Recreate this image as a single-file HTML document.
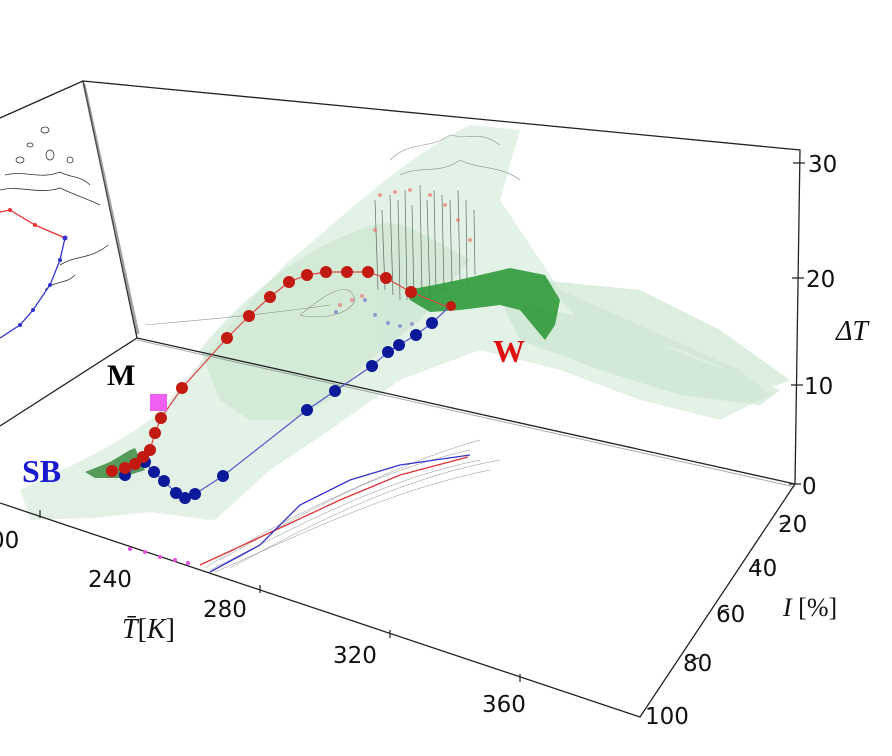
<!DOCTYPE html>
<html><head><meta charset="utf-8"><style>
html,body{margin:0;padding:0;background:#fff;}
svg{display:block;}
text{font-family:"DejaVu Sans","Liberation Sans",sans-serif;fill:#111;}
.serif{font-family:"Liberation Serif","DejaVu Serif",serif;}
</style></head><body>
<svg width="892" height="756" viewBox="0 0 892 756" xmlns="http://www.w3.org/2000/svg">
<rect width="892" height="756" fill="#fff"/>
<g fill="#dcefe0" opacity="0.8">
<path d="M20,490 C60,470 100,455 150,420 C190,380 230,320 290,260 C340,220 400,160 470,125 L520,130 L500,200 L560,290 L650,330 L740,370 L770,395 L720,420 L640,400 L560,370 L480,350 L400,380 L330,430 L270,470 L215,520 L150,512 L90,518 L30,518 Z"/>
</g>
<g fill="#c6e4cc" opacity="0.6">
<path d="M200,350 C240,300 300,250 360,230 C400,210 430,240 470,260 L420,320 L370,360 L330,400 L290,420 L250,420 L220,400 Z"/>
<path d="M500,300 L600,320 L700,360 L780,390 L760,405 L680,395 L600,370 L520,340 Z"/>
<path d="M540,280 L640,290 L720,330 L790,380 L770,388 L680,350 L580,320 Z"/>
</g>
<g fill="#e2f0e5" opacity="0.9">
<path d="M30,500 L120,470 L150,430 L170,415 L200,440 L215,480 L210,520 L150,512 L90,518 L30,520 Z"/>
</g>
<g stroke="#222" stroke-width="1.3" fill="none">
<path d="M83,81 L800,150 L795,484 L137,338 Z"/>
<path d="M83,81 L0,118"/>
<path d="M137,338 L0,426"/>
<path d="M0,503 L640,717 L795,484"/>
</g>
<g stroke="#555" stroke-width="1" fill="none">
<path d="M84,84 L138,334" stroke-width="3" stroke="#666" opacity="0.6"/>
<path d="M137,340 L795,487" opacity="0.5"/>
</g>
<g stroke="#222" stroke-width="1.2">
<path d="M793,163 L805,163 M792,278 L804,278 M791,385 L803,385 M789,484 L801,484"/>
<path d="M40,510 L40,518 M260,585 L260,593 M390,630 L390,638 M520,674 L520,682"/>
<path d="M780,524 L788,522 M752,566 L760,564 M721,611 L729,609 M691,660 L699,658"/>
</g>
<g font-size="23">
<text x="808" y="172">30</text>
<text x="806" y="287">20</text>
<text x="804" y="394">10</text>
<text x="802" y="494">0</text>
<text x="-10" y="548">00</text>
<text x="88" y="587">240</text>
<text x="203" y="617">280</text>
<text x="333" y="663">320</text>
<text x="482" y="712">360</text>
<text x="778" y="532">20</text>
<text x="748" y="576">40</text>
<text x="716" y="622">60</text>
<text x="683" y="671">80</text>
<text x="645" y="724">100</text>
</g>
<text x="836" y="340" font-size="28" font-style="italic" class="serif">ΔT</text>
<text x="783" y="616" font-size="26" class="serif"><tspan font-style="italic">I</tspan> [%]</text>
<text x="122" y="638" font-size="28" class="serif"><tspan font-style="italic">T̄</tspan>[<tspan font-style="italic">K</tspan>]</text>
<g stroke="#333" stroke-width="0.8" fill="none">
<path d="M0,190 C20,185 40,195 60,188 C75,195 90,200 100,205 M5,175 C25,170 40,180 60,172 C70,178 80,175 90,185"/>
<ellipse cx="45" cy="130" rx="4" ry="3"/><ellipse cx="50" cy="155" rx="4" ry="5"/><ellipse cx="20" cy="160" rx="4" ry="3"/>
<ellipse cx="70" cy="160" rx="3" ry="3"/><ellipse cx="30" cy="145" rx="3" ry="2"/>
<path d="M60,265 C75,255 90,260 108,245 M45,290 C55,280 65,285 75,275"/>
</g>
<polyline points="0,212 10,210 35,225 65,238" stroke="#e33" stroke-width="1.3" fill="none"/>
<polyline points="65,238 60,260 50,285 33,310 20,325 0,338" stroke="#33c" stroke-width="1.3" fill="none"/>
<g fill="#e33"><circle cx="10" cy="210" r="2"/><circle cx="35" cy="225" r="2"/></g>
<g fill="#33c"><circle cx="65" cy="238" r="2.5"/><circle cx="60" cy="260" r="2"/><circle cx="50" cy="285" r="2"/><circle cx="33" cy="310" r="2"/><circle cx="20" cy="325" r="2"/></g>
<g stroke="#333" stroke-width="0.7" opacity="0.7">
<path d="M375,200 L378,290 M382,210 L385,290 M390,195 L393,295 M398,200 L400,300 M405,190 L407,300 M412,205 L414,300 M420,185 L422,295 M427,200 L430,300 M434,190 L436,290 M442,195 L444,290 M450,200 L452,285 M458,190 L460,280 M466,200 L467,285 M474,210 L475,275"/>
</g>
<g stroke="#666" stroke-width="0.6" fill="none" opacity="0.7">
<path d="M390,160 C410,140 430,150 450,135 C470,140 480,130 500,145 M400,175 C420,165 440,175 460,160 C480,170 500,165 520,180"/>
<path d="M145,325 C200,320 260,315 330,305 M300,315 C330,290 350,280 355,300 C350,315 320,320 300,315"/>
</g>
<path d="M405,290 C440,285 480,275 510,268 L545,275 L560,300 L555,325 L545,340 L520,310 L500,305 L460,310 L430,312 L410,300 Z" fill="#2f9a3a" opacity="0.9"/>
<path d="M85,472 L110,462 L130,450 L135,448 L145,470 L120,478 L95,478 Z" fill="#3b8c41" opacity="0.85"/>
<g fill="#e66" opacity="0.6"><circle cx="380" cy="195" r="2"/><circle cx="395" cy="192" r="2"/><circle cx="410" cy="190" r="2"/><circle cx="430" cy="195" r="2"/><circle cx="445" cy="205" r="2"/><circle cx="458" cy="220" r="2"/><circle cx="470" cy="240" r="2"/><circle cx="375" cy="230" r="2"/><circle cx="340" cy="305" r="2"/><circle cx="352" cy="300" r="2"/><circle cx="362" cy="296" r="2"/></g>
<g fill="#66c" opacity="0.6"><circle cx="365" cy="300" r="2"/><circle cx="375" cy="315" r="2"/><circle cx="388" cy="323" r="2"/><circle cx="400" cy="326" r="2"/><circle cx="412" cy="324" r="2"/><circle cx="336" cy="312" r="2"/></g>
<g stroke="#444" stroke-width="0.5" fill="none" opacity="0.6">
<path d="M205,568 C280,520 380,470 470,450 M210,570 C290,530 380,480 480,460 M215,572 C300,535 390,490 490,470 M220,560 C300,515 390,465 480,440 M230,568 C310,525 400,478 500,460"/>
</g>
<polyline points="200,565 280,528 340,500 400,475 468,457" stroke="#d33" stroke-width="1.3" fill="none"/>
<polyline points="210,572 260,545 300,505 350,480 400,465 470,455" stroke="#33c" stroke-width="1.3" fill="none"/>
<g fill="#e050e0"><circle cx="130" cy="549" r="2"/><circle cx="145" cy="552" r="2"/><circle cx="160" cy="557" r="2"/><circle cx="175" cy="560" r="2"/><circle cx="188" cy="563" r="2"/></g>
<polyline points="112,471 125,468 135,464 143,457 150,450 155,433 161,418 182,388 227,338 249,316 270,297 289,282 307,275 326,272 347,272 368,272 386,278 411,292 455,310" stroke="#d44" stroke-width="1.2" fill="none"/>
<polyline points="125,475 145,462 154,472 164,481 176,493 185,498 195,494 223,476 307,410 335,391 372,366 388,352 399,345 416,335 432,323 448,308" stroke="#55c" stroke-width="1.2" fill="none"/>
<g fill="#0a1a9a">
<circle cx="125" cy="475" r="6"/><circle cx="145" cy="462" r="6"/><circle cx="154" cy="472" r="6"/><circle cx="164" cy="481" r="6"/><circle cx="176" cy="493" r="6"/><circle cx="185" cy="498" r="6"/><circle cx="195" cy="494" r="6"/><circle cx="223" cy="476" r="6"/><circle cx="307" cy="410" r="6"/><circle cx="335" cy="391" r="6"/><circle cx="372" cy="366" r="6"/><circle cx="388" cy="352" r="6"/><circle cx="399" cy="345" r="6"/><circle cx="416" cy="335" r="6"/><circle cx="432" cy="323" r="6"/>
</g>
<g fill="#c21a10">
<circle cx="112" cy="471" r="6"/><circle cx="125" cy="468" r="6"/><circle cx="135" cy="464" r="6"/><circle cx="143" cy="457" r="6"/><circle cx="150" cy="450" r="6"/><circle cx="155" cy="433" r="6"/><circle cx="161" cy="418" r="6"/><circle cx="182" cy="388" r="6"/><circle cx="227" cy="338" r="6"/><circle cx="249" cy="316" r="6"/><circle cx="270" cy="297" r="6"/><circle cx="289" cy="282" r="6"/><circle cx="307" cy="275" r="6"/><circle cx="326" cy="272" r="6"/><circle cx="347" cy="272" r="6"/><circle cx="368" cy="272" r="6"/><circle cx="386" cy="278" r="6"/><circle cx="411" cy="292" r="6"/><circle cx="451" cy="306" r="5"/>
</g>
<rect x="150" y="394" width="17" height="17" fill="#f060f0"/>
<text x="107" y="385" font-size="30" font-weight="bold" class="serif" style="fill:#000">M</text>
<text x="22" y="482" font-size="32" font-weight="bold" class="serif" style="fill:#1a1ad0">SB</text>
<text x="493" y="362" font-size="32" font-weight="bold" class="serif" style="fill:#e01010">W</text>
</svg>
</body></html>
